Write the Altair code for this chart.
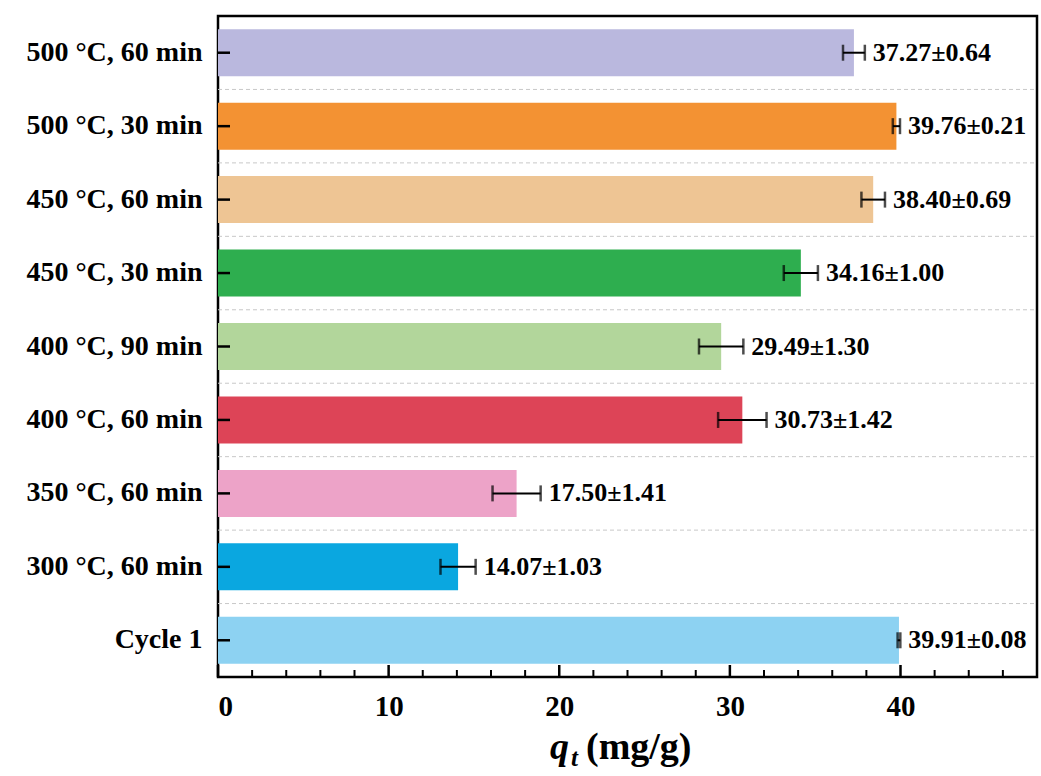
import altair as alt
import pandas as pd

categories = ["500 °C, 60 min", "500 °C, 30 min", "450 °C, 60 min", "450 °C, 30 min",
              "400 °C, 90 min", "400 °C, 60 min", "350 °C, 60 min", "300 °C, 60 min", "Cycle 1"]
values = [37.27, 39.76, 38.40, 34.16, 29.49, 30.73, 17.50, 14.07, 39.91]
errors = [0.64, 0.21, 0.69, 1.00, 1.30, 1.42, 1.41, 1.03, 0.08]
colors = ["#BAB8DE", "#F39233", "#EEC594", "#2EAE4F", "#B2D69B",
          "#DD4457", "#EDA3C8", "#0AA7E0", "#8DD2F2"]
major_ticks = [0, 10, 20, 30, 40]
minor_ticks = [2, 4, 6, 8, 12, 14, 16, 18, 22, 24, 26, 28, 32, 34, 36, 38, 42, 44, 46]

W, H = 819, 661
FONT = "Liberation Serif"
STEP = H / len(categories)

df = pd.DataFrame({"cat": categories, "q": values, "err": errors})
df["lo"] = df["q"] - df["err"]
df["hi"] = df["q"] + df["err"]
df["label"] = [f"{v:.2f}±{e:.2f}" for v, e in zip(values, errors)]

xscale = alt.Scale(domain=[0, 48], nice=False, zero=True)
yscale = alt.Scale(domain=categories, paddingInner=0.36, paddingOuter=0.18)


def X(field):
    return alt.X(field, scale=xscale, title=None)


def Y():
    return alt.Y("cat:N", scale=yscale, title=None)


base = alt.Chart(df)

bars = base.mark_bar().encode(
    x=alt.X("q:Q", scale=xscale, title=None,
            axis=alt.Axis(values=major_ticks, ticks=False, domain=False, grid=False,
                          labelFont=FONT, labelFontSize=29, labelFontWeight="bold",
                          labelColor="black", labelPadding=15)),
    y=alt.Y("cat:N", scale=yscale, title=None,
            axis=alt.Axis(ticks=False, domain=False, grid=False,
                          labelFont=FONT, labelFontSize=28, labelFontWeight="bold",
                          labelColor="black", labelPadding=16)),
    color=alt.Color("cat:N", scale=alt.Scale(domain=categories, range=colors), legend=None),
)

grid = alt.Chart(df.iloc[1:]).mark_rule(
    color="#c8c8c8", strokeWidth=1, strokeDash=[4, 3], yOffset=-STEP / 2
).encode(y=Y(), x=alt.value(0), x2=alt.value(W))

err_line = base.mark_rule(color="black", strokeWidth=2).encode(x=X("lo:Q"), x2="hi:Q", y=Y())
cap_lo = base.mark_tick(color="black", thickness=2.5, size=16).encode(x=X("lo:Q"), y=Y())
cap_hi = base.mark_tick(color="black", thickness=2.5, size=16).encode(x=X("hi:Q"), y=Y())

labels = base.mark_text(align="left", baseline="middle", dx=8, font=FONT, fontSize=26,
                        fontWeight="bold", color="black").encode(x=X("hi:Q"), y=Y(), text="label:N")

yticks = base.mark_rule(color="black", strokeWidth=2.5).encode(y=Y(), x=alt.value(0), x2=alt.value(12))

xmaj = alt.Chart(pd.DataFrame({"t": major_ticks})).mark_rule(color="black", strokeWidth=2.5).encode(
    x=X("t:Q"), y=alt.value(H), y2=alt.value(H - 12))
xmin = alt.Chart(pd.DataFrame({"t": minor_ticks})).mark_rule(color="black", strokeWidth=2).encode(
    x=X("t:Q"), y=alt.value(H), y2=alt.value(H - 7))

one = pd.DataFrame({"k": [0]})
t_q = alt.Chart(one).mark_text(text="q", font=FONT, fontSize=38, fontStyle="italic",
                               fontWeight="bold", align="left", baseline="alphabetic",
                               color="black").encode(x=alt.value(332), y=alt.value(743))
t_t = alt.Chart(one).mark_text(text="t", font=FONT, fontSize=25, fontStyle="italic",
                               fontWeight="bold", align="left", baseline="alphabetic",
                               color="black").encode(x=alt.value(353), y=alt.value(750))
t_u = alt.Chart(one).mark_text(text="(mg/g)", font=FONT, fontSize=38,
                               fontWeight="bold", align="left", baseline="alphabetic",
                               color="black").encode(x=alt.value(368), y=alt.value(743))

chart = alt.layer(grid, bars, err_line, cap_lo, cap_hi, labels, yticks, xmaj, xmin, t_q, t_t, t_u).properties(
    width=W, height=H,
    autosize=alt.AutoSizeParams(type="none"),
    padding={"left": 218, "top": 16, "right": 4, "bottom": 99},
    background="white",
).configure_view(stroke="black", strokeWidth=2.5)

chart.save("out.html", embed_options={"renderer": "svg", "actions": False})
